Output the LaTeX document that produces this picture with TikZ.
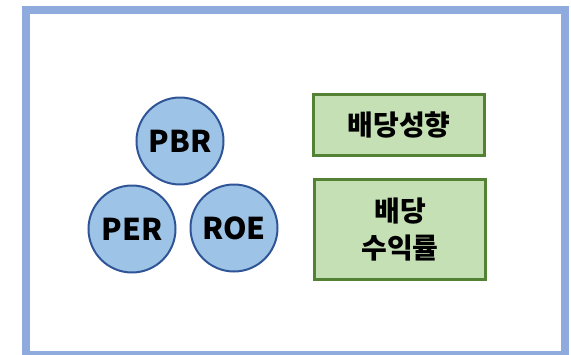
\documentclass[tikz,border=0pt]{standalone}
\usepackage{fontspec}
\usepackage{xcolor}
\usepackage{tikz}
\usetikzlibrary{positioning}
\newfontfamily\krfont{Noto Sans CJK KR}
\definecolor{framecol}{HTML}{8FAADC}
\definecolor{ballfill}{HTML}{9DC3E6}
\definecolor{balledge}{HTML}{2F5597}
\definecolor{boxfill}{HTML}{C5E0B4}
\definecolor{boxedge}{HTML}{548235}

\begin{document}
\begin{tikzpicture}[x=1pt, y=-1pt,
    ratio/.style={circle, draw=balledge, fill=ballfill, line width=2pt,
        minimum size=87pt, inner sep=0pt, font=\krfont\bfseries\fontsize{30}{30}\selectfont},
    divbox/.style={rectangle, draw=boxedge, fill=boxfill, line width=2.2pt,
        minimum width=171pt, align=center, font=\krfont\bfseries\fontsize{28}{37}\selectfont}]
        \useasboundingbox (0, 0) rectangle (571, 354);
        % frame
        \draw [framecol, line width=8.5pt] (26, 10) rectangle (565, 355);

        % ratios
        \node [ratio] (pbr) at (180, 141) {PBR};
        \node [ratio] (per) at (132, 229) {PER};
        \node [ratio] (roe) at (234, 228) {ROE};

        % dividend
        \node [divbox, minimum height=61pt] (payout) at (399, 125) {배당성향};
        \node [divbox, minimum height=100pt] (yield) at (400, 229.5) {배당\\수익률};
    \end{tikzpicture}
\end{document}
